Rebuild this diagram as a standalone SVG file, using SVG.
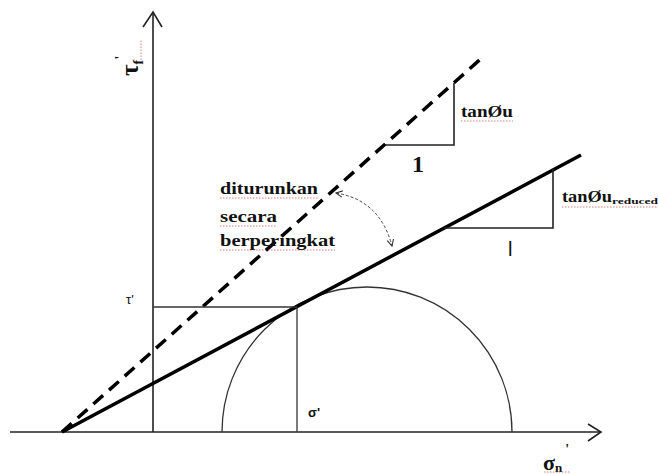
<svg xmlns="http://www.w3.org/2000/svg" width="658" height="474" viewBox="0 0 658 474">
<defs>
<style>
.ax{stroke:#222;stroke-width:1.6;fill:none}
.thin{stroke:#333;stroke-width:1.3;fill:none}
.thick{stroke:#000;stroke-width:3.5;fill:none}
.dash{stroke:#000;stroke-width:3.5;fill:none;stroke-dasharray:13 8}
.lbl{font-family:"Liberation Serif",serif;font-weight:bold;fill:#111}
.sans{font-family:"Liberation Sans",sans-serif;fill:#111}
.sq{stroke:#c44;stroke-width:1;stroke-dasharray:1.5 1.5;fill:none;opacity:0.7}
</style>
<marker id="open" viewBox="0 0 10 10" refX="9" refY="5" markerWidth="8" markerHeight="8" orient="auto-start-reverse" markerUnits="userSpaceOnUse">
<path d="M1,1 L9,5 L1,9" fill="none" stroke="#333" stroke-width="1.4"/>
</marker>
</defs>
<rect width="658" height="474" fill="#fff"/>
<g id="axes">
<line class="ax" x1="10" y1="432" x2="600" y2="432"/>
<polyline class="ax" points="588,424 601,432 588,441"/>
<line class="ax" x1="153" y1="12" x2="153" y2="432"/>
<polyline class="ax" points="143,27 153,12 162,27"/>
</g>
<g id="circle">
<path class="thin" d="M222,432 A145,145 0 0 1 512,432"/>
</g>
<g id="connectors">
<line class="dash" x1="62" y1="432" x2="484" y2="56"/>
<line class="thick" x1="62" y1="432" x2="581" y2="155"/>
<line class="thin" x1="153" y1="307" x2="297" y2="307"/>
<line class="thin" x1="297" y1="307" x2="297" y2="432"/>
<polyline class="ax" points="385,145 454,145 454,83"/>
<polyline class="ax" points="444,228 553,228 553,169"/>
<path d="M336,193 Q380,200 392,246" fill="none" stroke="#444" stroke-width="1" stroke-dasharray="3 2" marker-start="url(#open)" marker-end="url(#open)"/>
</g>
<g id="labels">
<text class="lbl" transform="translate(138,76) rotate(-90)" font-size="25">τ<tspan font-size="14" dy="5">f</tspan><tspan font-size="15" dy="-18">'</tspan></text>
<line class="sq" x1="141" y1="60" x2="141" y2="40"/>
<text class="lbl" x="461" y="117" font-size="16" textLength="52" lengthAdjust="spacingAndGlyphs">tanØu</text>
<line class="sq" x1="461" y1="121" x2="513" y2="121"/>
<text class="lbl" x="412" y="172" font-size="24" font-weight="normal">1</text>
<text class="lbl" x="562" y="202" font-size="16"><tspan textLength="50" lengthAdjust="spacingAndGlyphs">tanØu</tspan><tspan font-size="9" dy="2" textLength="46" lengthAdjust="spacingAndGlyphs">reduced</tspan></text>
<line class="sq" x1="562" y1="207" x2="658" y2="207"/>
<text class="sans" x="508" y="256" font-size="20">l</text>
<text class="lbl" x="220" y="194" font-size="16" textLength="98" lengthAdjust="spacingAndGlyphs">diturunkan</text>
<line class="sq" x1="220" y1="198" x2="318" y2="198"/>
<text class="lbl" x="220" y="222" font-size="16" textLength="57" lengthAdjust="spacingAndGlyphs">secara</text>
<line class="sq" x1="220" y1="226" x2="277" y2="226"/>
<text class="lbl" x="220" y="246" font-size="16" textLength="115" lengthAdjust="spacingAndGlyphs">berperingkat</text>
<line class="sq" x1="220" y1="250" x2="335" y2="250"/>
<text class="sans" x="126" y="304" font-size="13">τ'</text>
<text class="sans" x="308" y="417" font-size="13" font-weight="bold">σ'</text>
<text class="lbl" x="543" y="470" font-size="22">σ<tspan font-size="13" dy="2">n</tspan><tspan font-size="14" dx="3" dy="-18">'</tspan></text>
<line class="sq" x1="544" y1="472" x2="570" y2="472"/>
</g>
</svg>
